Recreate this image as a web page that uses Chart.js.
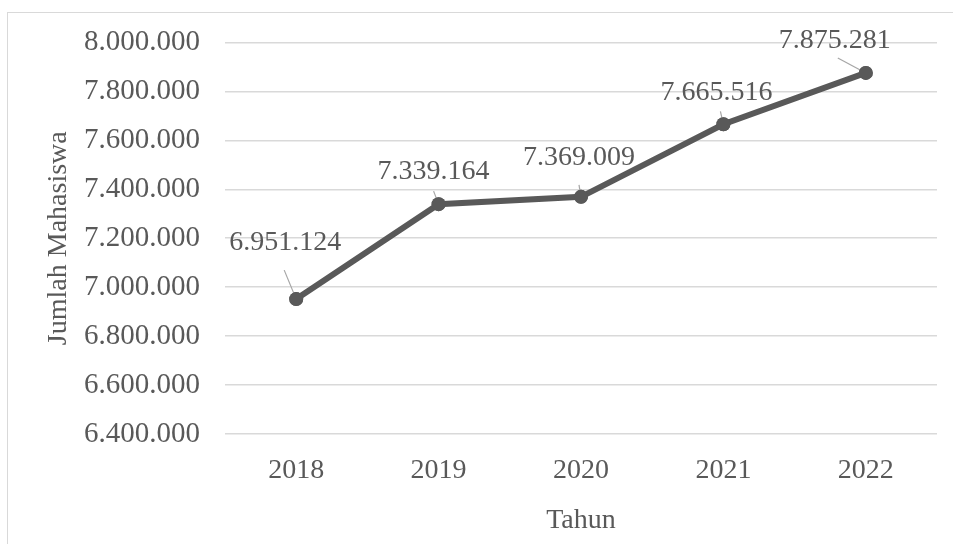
<!DOCTYPE html>
<html>
<head>
<meta charset="utf-8">
<script src="https://cdn.jsdelivr.net/npm/chart.js@4.4.0/dist/chart.umd.min.js"></script>
<style>
  html, body { margin: 0; padding: 0; background: #fff; }
  #wrap { position: relative; width: 953px; height: 544px; overflow: hidden; }
  #frame { position: absolute; left: 7px; top: 12px; width: 960px; height: 560px; border: 1px solid #d9d9d9; box-sizing: border-box; }
  canvas { position: absolute; left: 0; top: 0; }
</style>
</head>
<body>
<div id="wrap">
  <div id="frame"></div>
  <canvas id="c" width="953" height="544"></canvas>
</div>
<script>
const categories = ['2018', '2019', '2020', '2021', '2022'];
const mahasiswa = [6951124, 7339164, 7369009, 7665516, 7875281];
const yMin = 6400000, yMax = 8000000, yStep = 200000;
const xTitle = 'Tahun';
const yTitle = 'Jumlah Mahasiswa';

// label placement offsets (style only): label center relative to point, leader start
const labelOffsets = [
  { dx: -11, dy: -56, lx: -12, ly: -29 },
  { dx: -5,  dy: -32, lx: -5,  ly: -13 },
  { dx: -2,  dy: -39, lx: -2,  ly: -12 },
  { dx: -7,  dy: -32, lx: -3,  ly: -13 },
  { dx: -31, dy: -32, lx: -28, ly: -15 }
];

function fmt(v) {
  return String(Math.round(v)).replace(/\B(?=(\d{3})+(?!\d))/g, '.');
}

const FONT = '"Liberation Serif", "Times New Roman", serif';
const TXT = '#595959';

const dataLabels = {
  id: 'dataLabels',
  afterDatasetsDraw(chart) {
    const ctx = chart.ctx;
    const meta = chart.getDatasetMeta(0);
    ctx.save();
    meta.data.forEach((pt, i) => {
      const o = labelOffsets[i];
      ctx.strokeStyle = '#a6a6a6';
      ctx.lineWidth = 1.2;
      ctx.beginPath();
      ctx.moveTo(pt.x + o.lx, pt.y + o.ly);
      ctx.lineTo(pt.x, pt.y);
      ctx.stroke();
    });
    meta.data.forEach((pt) => {
      ctx.fillStyle = '#595959';
      ctx.beginPath();
      ctx.arc(pt.x, pt.y, 7, 0, Math.PI * 2);
      ctx.fill();
    });
    ctx.font = '28px ' + FONT;
    ctx.fillStyle = TXT;
    ctx.textAlign = 'center';
    ctx.textBaseline = 'middle';
    meta.data.forEach((pt, i) => {
      const o = labelOffsets[i];
      ctx.fillText(fmt(mahasiswa[i]), pt.x + o.dx, pt.y + o.dy);
    });
    ctx.restore();
  }
};

new Chart(document.getElementById('c'), {
  type: 'line',
  data: {
    labels: categories,
    datasets: [{
      data: mahasiswa,
      borderColor: '#595959',
      backgroundColor: '#595959',
      borderWidth: 6,
      pointRadius: 7,
      pointBackgroundColor: '#595959',
      pointBorderWidth: 0,
      tension: 0,
      fill: false
    }]
  },
  options: {
    responsive: false,
    animation: false,
    devicePixelRatio: 1,
    layout: { padding: { left: 0, right: 16, top: 42, bottom: 0 } },
    plugins: { legend: { display: false }, tooltip: { enabled: false } },
    scales: {
      x: {
        offset: true,
        grid: { display: false, drawTicks: false },
        border: { display: false },
        ticks: { color: TXT, font: { family: FONT, size: 28 }, padding: 20 },
        title: { display: true, text: xTitle, color: TXT, font: { family: FONT, size: 28 }, padding: { top: 4, bottom: 7 } },
        afterFit(s) { s.height = 110; }
      },
      y: {
        min: yMin, max: yMax,
        grid: { color: '#d9d9d9', lineWidth: 1.5, drawTicks: false },
        border: { display: false },
        ticks: { stepSize: yStep, color: TXT, font: { family: FONT, size: 29 }, padding: 25, callback: (v) => fmt(v) },
        title: { display: true, text: yTitle, color: TXT, font: { family: FONT, size: 28 }, padding: { top: 42, bottom: 0 } },
        afterFit(s) { s.width = 225; }
      }
    }
  },
  plugins: [dataLabels]
});
</script>
</body>
</html>
